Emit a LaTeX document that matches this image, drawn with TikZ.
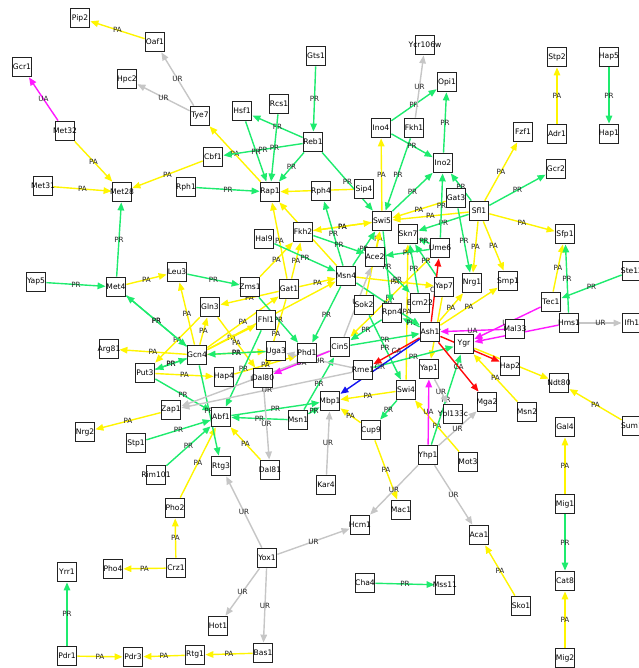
\documentclass[tikz,border=0pt]{standalone}
\usepackage{fontspec}
\setmainfont{DejaVu Sans}
\usetikzlibrary{arrows.meta,backgrounds}
\definecolor{prgreen}{HTML}{1EEB6E}
\definecolor{payellow}{HTML}{FFF500}
\definecolor{urgray}{HTML}{C6C6C6}
\definecolor{uamagenta}{HTML}{FF1AFF}
\definecolor{cared}{HTML}{FF0A0A}
\definecolor{crblue}{HTML}{1414F0}
\definecolor{boxline}{HTML}{222222}
\tikzset{
  tf/.style={draw=boxline,line width=1.8pt,fill=white,minimum size=19pt,
             inner sep=0pt,font=\fontsize{7.6}{8}\selectfont},
  reg/.style={-{Triangle[length=8pt,width=6.5pt]},line width=1.4pt},
  lab/.style={font=\fontsize{7.2}{8}\selectfont,text=black!85,inner sep=0pt}
}
\begin{document}
\begin{tikzpicture}[
  x=1pt,y=-1pt,
  pa/.style={reg,draw=payellow,fill=payellow},
  pr/.style={reg,draw=prgreen,fill=prgreen},
  ur/.style={reg,draw=urgray,fill=urgray},
  ua/.style={reg,draw=uamagenta,fill=uamagenta},
  ca/.style={reg,draw=cared,fill=cared},
  cr/.style={reg,draw=crblue,fill=crblue}
]
  \useasboundingbox (0,0) rectangle (638,668);
  \foreach \n/\x/\y in {Pip2/80/18,Oaf1/155/42,Gcr1/22/67,Hpc2/127/79,Tye7/200/116,
      Met32/65/131,Cbf1/213/157,Met31/43/186,Met28/122/192,Rph1/186/187,
      Gts1/316/56,Hsf1/242/111,Rcs1/279/104,Reb1/313/142,Rap1/270/192,
      Rph4/321/191,Sip4/364/189,Ycr106w/425/45,Opi1/447/82,Ino4/381/128,
      Fkh1/414/128,Ino2/443/163,Fzf1/523/132,Stp2/557/57,Adr1/557/134,
      Hap5/609/57,Hap1/609/134,Gcr2/556/169,Gat3/456/198,Sfl1/479/211,
      Swi5/382/221,Skn7/408/234,Ume6/440/248,Sfp1/565/234,Fkh2/303/232,
      Hal9/264/239,Ace2/375/257,Msn4/346/276,Gat1/289/289,Zms1/250/287,
      Leu3/177/272,Met4/116/287,Yap5/36/282,Gln3/210/307,Fhl1/266/320,
      Gcn4/197/355,Arg81/109/349,Put3/145/373,Uga3/276/351,Phd1/307/353,
      Cin5/340/347,Dal80/263/378,Hap4/224/377,Zap1/171/410,Abf1/221/417,
      Nrg2/85/432,Stp1/136/443,Rim101/156/475,Rtg3/221/466,Msn1/298/420,
      Mbp1/330/401,Dal81/270/470,Kar4/326/485,Rme1/363/370,Cup9/371/430,
      Swi4/406/390,Yap7/444/287,Nrg1/472/283,Smp1/508/281,Sok2/364/305,
      Rpn4/392/313,Ecm22/420/303,Ash1/430/332,Ygr/464/344,Yap1/429/369,
      Ypl133c/453/414,Mga2/487/402,Hap2/510/366,Mal33/515/329,Tec1/551/302,
      Hms1/569/323,Ste12/632/271,Ifh1/632/323,Ndt80/559/383,Msn2/527/412,
      Sum1/632/426,Gal4/565/427,Mig1/565/504,Cat8/565/581,Mig2/565/658,
      Yhp1/428/455,Mot3/468/462,Mac1/401/510,Aca1/479/535,Sko1/521/606,
      Hcm1/360/525,Yox1/267/558,Hot1/218/626,Bas1/263/653,Rtg1/195/655,
      Pdr3/133/657,Pdr1/67/656,Yrr1/67/572,Pho4/113/569,Crz1/176/568,
      Pho2/175/508,Cha4/365/583,Mss11/445/585}
    \node[tf] (\n) at (\x,\y) {\makebox[0pt]{\n}};
  \begin{pgfonlayer}{background}
  \foreach \a/\b in {Oaf1/Pip2,Met32/Met28,Met31/Met28,Cbf1/Met28,Rap1/Tye7,
      Sip4/Rap1,Swi5/Ino4,Sfl1/Fzf1,Adr1/Stp2,Sfl1/Sfp1,Sfl1/Smp1,Sfl1/Nrg1,
      Sfl1/Swi5,Gat3/Swi5,Tec1/Sfp1,Met4/Leu3,Gcn4/Leu3,Gcn4/Arg81,Gcn4/Gln3,
      Gln3/Put3,Put3/Hap4,Zap1/Nrg2,Pho2/Abf1,Dal81/Abf1,Crz1/Pho2,Crz1/Pho4,
      Bas1/Rtg1,Rtg1/Pdr3,Pdr1/Pdr3,Mig1/Gal4,Mig2/Cat8,Sko1/Aca1,Sum1/Ndt80,
      Cup9/Mac1,Mot3/Swi4,Cup9/Mbp1,Msn4/Rap1,Gat1/Rap1,Gat1/Fkh2,Zms1/Fkh2,
      Gat1/Msn4,Gcn4/Fhl1,Gat1/Gln3,Gln3/Dal80,Gat1/Dal80,Gcn4/Uga3,Gcn4/Msn4,
      Gcn4/Gat1,Hap4/Phd1,Swi5/Fkh2,Fkh2/Swi5,Ace2/Swi5,Sok2/Swi5,Ash1/Smp1,
      Ash1/Nrg1,Swi4/Skn7,Msn2/Ygr,Ygr/Ndt80,Msn4/Yap7,Yap7/Yap1,Ume6/Cin5,
      Swi4/Mbp1}
    \draw[pa] (\a) -- node[lab]{PA} (\b);
  \foreach \a/\b in {Met4/Met28,Rph1/Rap1,Reb1/Cbf1,Reb1/Hsf1,Gts1/Reb1,
      Rcs1/Rap1,Hsf1/Rap1,Reb1/Rap1,Reb1/Swi5,Fkh1/Swi5,Ino4/Opi1,Ino4/Ino2,
      Ino2/Opi1,Sfl1/Ino2,Sfl1/Gcr2,Hap5/Hap1,Gat3/Nrg1,Sfl1/Skn7,Hms1/Sfp1,
      Ste12/Tec1,Yap5/Met4,Met4/Gcn4,Gcn4/Met4,Put3/Gcn4,Gcn4/Put3,Leu3/Zms1,
      Zms1/Phd1,Msn4/Phd1,Msn4/Swi5,Msn4/Rph4,Fkh2/Ace2,Hal9/Msn4,Put3/Abf1,
      Stp1/Abf1,Rim101/Abf1,Msn1/Abf1,Abf1/Mbp1,Msn1/Mbp1,Gcn4/Rtg3,Swi4/Cup9,
      Mig1/Cat8,Cha4/Mss11,Pdr1/Yrr1,Ume6/Ino2,Ume6/Skn7,Yhp1/Ygr,Fhl1/Abf1,
      Uga3/Gcn4,Msn1/Cin5,Cin5/Ash1,Rme1/Ygr,Sok2/Swi4,Ume6/Ace2,Yap7/Skn7,
      Ash1/Rpn4,Msn4/Ash1,Ace2/Ecm22,Swi5/Rpn4,Ecm22/Skn7,Swi5/Ino2,Rpn4/Cin5}
    \draw[pr] (\a) -- node[lab]{PR} (\b);
  \foreach \a/\b in {Tye7/Oaf1,Tye7/Hpc2,Fkh1/Ycr106w,Hms1/Ifh1,Cin5/Zap1,
      Rme1/Zap1,Dal80/Dal81,Kar4/Mbp1,Yhp1/Hcm1,Yhp1/Aca1,Yhp1/Mga2,Yox1/Rtg3,
      Yox1/Hcm1,Yox1/Hot1,Yox1/Bas1,Cin5/Ace2,Yap1/Ypl133c,Rme1/Uga3}
    \draw[ur] (\a) -- node[lab]{UR} (\b);
  \foreach \a/\b in {Met32/Gcr1,Tec1/Ygr,Hms1/Ygr,Mal33/Ash1,Yhp1/Yap1,Cin5/Dal80}
    \draw[ua] (\a) -- node[lab]{UA} (\b);
  \foreach \a/\b in {Ash1/Ume6,Ash1/Rme1,Ash1/Mga2,Ash1/Hap2}
    \draw[ca] (\a) -- node[lab]{CA} (\b);
  \draw[cr] (Ash1) -- node[lab]{CR} (Mbp1);
  \end{pgfonlayer}
\end{tikzpicture}
\end{document}
